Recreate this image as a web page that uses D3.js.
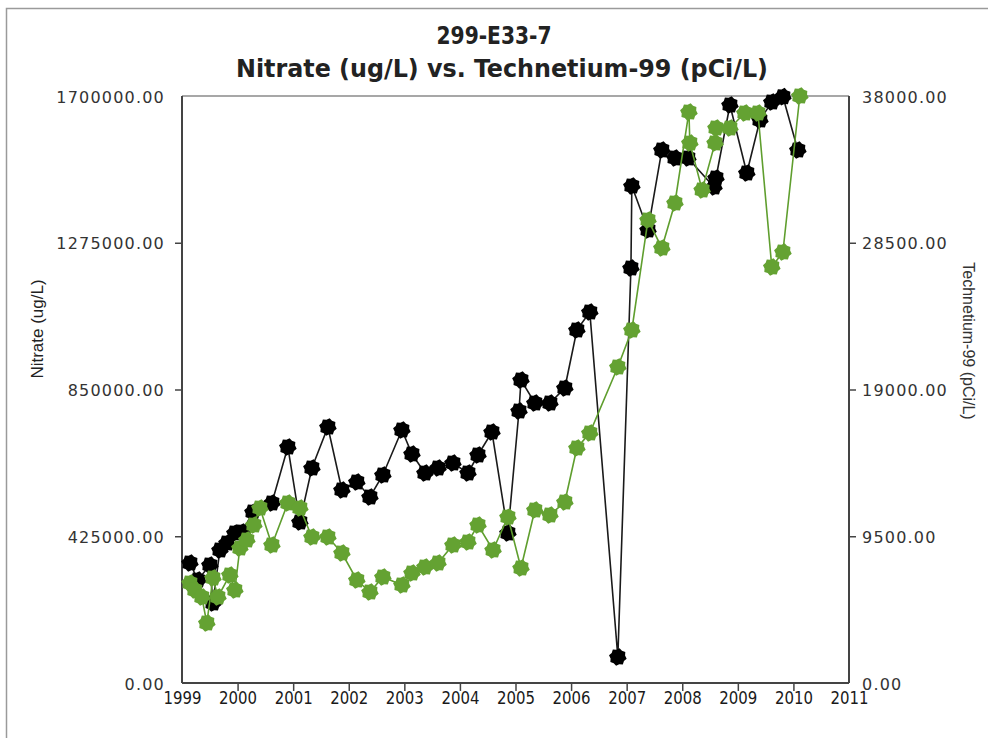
<!DOCTYPE html>
<html>
<head>
<meta charset="utf-8">
<script src="https://cdn.jsdelivr.net/npm/d3@7"></script>
<style>
  body { margin: 0; background: #fff; }
</style>
</head>
<body>
<div id="chart"></div>
<script>
// sample dates and values
var nitrateDates = ["1999-02-22","1999-04-15","1999-07-03","1999-07-23","1999-09-07","1999-10-23","1999-12-14",
  "2000-01-30","2000-04-11","2000-08-14","2000-11-27","2001-02-14","2001-05-04","2001-08-17","2001-11-17",
  "2002-02-23","2002-05-20","2002-08-13","2002-12-16","2003-02-20","2003-05-16","2003-08-10","2003-11-16",
  "2004-02-23","2004-04-29","2004-07-30","2004-11-12","2005-01-24","2005-02-06","2005-05-08","2005-08-15",
  "2005-11-21","2006-02-08","2006-05-04","2006-11-04","2007-01-29","2007-02-04","2007-05-21","2007-08-20",
  "2007-11-14","2008-02-07","2008-07-28","2008-08-10","2008-11-10","2009-03-01","2009-05-26","2009-08-12",
  "2009-10-24","2010-01-30"];
var nitrateValues = [347500,298300,341700,231700,385200,405500,434400,
  437300,495200,521300,683500,466300,622700,741400,559000,
  582100,538700,602400,732700,663200,608200,622700,637100,
  608200,660300,726900,434400,787700,877500,810900,810900,
  854300,1022300,1074400,75300,1201900,1439400,1311900,1543600,
  1520500,1520500,1436500,1462500,1674000,1477000,1630500,1682600,
  1698000,1543600];

var tcDates = ["1999-02-22","1999-03-26","1999-05-11","1999-06-13","1999-07-23","1999-08-25","1999-11-11","1999-12-14",
  "2000-01-16","2000-03-02","2000-04-17","2000-05-27","2000-08-14","2000-11-27","2001-02-14","2001-05-04",
  "2001-08-17","2001-11-17","2002-02-23","2002-05-20","2002-08-13","2002-12-16","2003-02-20","2003-05-16",
  "2003-08-10","2003-11-16","2004-02-23","2004-04-29","2004-08-06","2004-11-12","2005-02-06","2005-05-08",
  "2005-08-15","2005-11-21","2006-02-08","2006-05-04","2006-11-04","2007-02-04","2007-05-21","2007-08-20",
  "2007-11-14","2008-02-14","2008-02-20","2008-05-11","2008-08-04","2008-08-10","2008-11-10","2009-02-16",
  "2009-05-13","2009-08-12","2009-10-24","2010-02-12"];
var tcValues = [6474,6021,5568,3884,6798,5568,6992,6021,
  8740,9258,10229,11330,8934,11653,11330,9452,
  9452,8416,6668,5891,6862,6345,7121,7510,
  7769,8934,9128,10229,8610,10747,7445,11200,
  10876,11718,15214,16185,20458,22853,29975,28162,
  31075,36967,34960,31917,34960,35931,35931,36902,
  36902,26932,27903,38000];

var yearTicks = [1999,2000,2001,2002,2003,2004,2005,2006,2007,2008,2009,2010,2011];
var nitrateTicks = [0,425000,850000,1275000,1700000];
var tcTicks = [0,9500,19000,28500,38000];

var title1 = "299-E33-7";
var title2 = "Nitrate (ug/L) vs. Technetium-99 (pCi/L)";
var leftTitle = "Nitrate (ug/L)";
var rightTitle = "Technetium-99 (pCi/L)";

var W = 988, H = 738;
var margin = {top: 96, right: 139, bottom: 55, left: 182},
    width = W - margin.left - margin.right,
    height = H - margin.top - margin.bottom;

var parse = d3.timeParse("%Y-%m-%d");
var nitrate = nitrateDates.map(function(d, i) { return {date: parse(d), value: nitrateValues[i]}; });
var tc = tcDates.map(function(d, i) { return {date: parse(d), value: tcValues[i]}; });

var root = d3.select("#chart").append("svg")
  .attr("width", W).attr("height", H);

// outer frame
root.append("rect")
  .attr("x", 6.5).attr("y", 8.5)
  .attr("width", W + 20).attr("height", H + 20)
  .attr("fill", "none").attr("stroke", "#9a9a9a").attr("stroke-width", 1.5);

var titleFont = "Liberation Sans Narrow, DejaVu Sans Condensed";
root.append("text")
  .attr("x", 494).attr("y", 44)
  .attr("text-anchor", "middle")
  .attr("font-family", titleFont)
  .attr("font-weight", "bold").attr("font-size", 24)
  .attr("fill", "#222")
  .attr("textLength", 115).attr("lengthAdjust", "spacingAndGlyphs")
  .text(title1);
root.append("text")
  .attr("x", 502).attr("y", 77)
  .attr("text-anchor", "middle")
  .attr("font-family", titleFont)
  .attr("font-weight", "bold").attr("font-size", 24)
  .attr("fill", "#222")
  .attr("textLength", 532).attr("lengthAdjust", "spacingAndGlyphs")
  .text(title2);

var svg = root.append("g")
  .attr("transform", "translate(" + margin.left + "," + margin.top + ")");

var x = d3.scaleLinear().domain([1999, 2011]).range([0, width]);
var yL = d3.scaleLinear().domain([0, 1700000]).range([height, 0]);
var yR = d3.scaleLinear().domain([0, 38000]).range([height, 0]);

function decYear(d) {
  var y = d.getFullYear();
  var start = new Date(y, 0, 1), end = new Date(y + 1, 0, 1);
  return y + (d - start) / (end - start);
}

// axes
var fmt = d3.format(".2f");
function styleAxis(g, interior) {
  g.select(".domain").remove();
  g.selectAll(".tick line")
    .attr("stroke", "#444").attr("stroke-width", 1.5)
    .style("display", function(d) { return interior.indexOf(d) < 0 ? "none" : null; });
}

var gx = svg.append("g")
  .attr("transform", "translate(0," + height + ")")
  .call(d3.axisBottom(x).tickValues(yearTicks).tickFormat(d3.format("d")).tickSize(8).tickPadding(1));
styleAxis(gx, yearTicks.slice(1, -1));
gx.selectAll("text")
  .attr("font-family", "DejaVu Sans Condensed, DejaVu Sans")
  .attr("font-size", 17).attr("fill", "#1a1a1a")
  .attr("textLength", 38).attr("lengthAdjust", "spacingAndGlyphs");

var gl = svg.append("g")
  .call(d3.axisLeft(yL).tickValues(nitrateTicks).tickFormat(fmt).tickSize(7).tickPadding(10));
styleAxis(gl, nitrateTicks.slice(1, -1));
gl.selectAll("text")
  .attr("font-family", "DejaVu Sans")
  .attr("font-size", 16).attr("fill", "#333")
  .attr("letter-spacing", 1.2)
  .attr("dy", "0.38em");

var gr = svg.append("g")
  .attr("transform", "translate(" + width + ",0)")
  .call(d3.axisRight(yR).tickValues(tcTicks).tickFormat(fmt).tickSize(7).tickPadding(6));
styleAxis(gr, tcTicks.slice(1, -1));
gr.selectAll("text")
  .attr("font-family", "DejaVu Sans")
  .attr("font-size", 16).attr("fill", "#333")
  .attr("letter-spacing", 1.2)
  .attr("dy", "0.38em");

// plot frame
svg.append("line").attr("x1", 0).attr("x2", width).attr("y1", 0).attr("y2", 0)
  .attr("stroke", "#8a8a8a").attr("stroke-width", 1.5);
svg.append("line").attr("x1", 0).attr("x2", 0).attr("y1", 0).attr("y2", height)
  .attr("stroke", "#444").attr("stroke-width", 2);
svg.append("line").attr("x1", width).attr("x2", width).attr("y1", 0).attr("y2", height)
  .attr("stroke", "#444").attr("stroke-width", 2);
svg.append("line").attr("x1", 0).attr("x2", width).attr("y1", height).attr("y2", height)
  .attr("stroke", "#444").attr("stroke-width", 2);

// axis titles
root.append("text")
  .attr("transform", "translate(43,329) rotate(-90)")
  .attr("text-anchor", "middle")
  .attr("font-family", "Liberation Sans, Arial")
  .attr("font-size", 17).attr("fill", "#222")
  .text(leftTitle);
root.append("text")
  .attr("transform", "translate(963,341) rotate(90)")
  .attr("text-anchor", "middle")
  .attr("font-family", "Liberation Sans, Arial")
  .attr("font-size", 16).attr("fill", "#333")
  .text(rightTitle);

// gear-like marker used by the original chart
var gear = {
  draw: function(ctx, size) {
    var R = Math.sqrt(size / Math.PI), r = R * 0.82, n = 16;
    for (var i = 0; i < n; i++) {
      var a = i * Math.PI * 2 / n + Math.PI / 16;
      var rr = (i % 2 === 0) ? R : r;
      var px = rr * Math.cos(a), py = rr * Math.sin(a);
      if (i === 0) ctx.moveTo(px, py); else ctx.lineTo(px, py);
    }
    ctx.closePath();
  }
};
var marker = d3.symbol().type(gear).size(Math.PI * 9 * 9);

function drawSeries(data, yScale, lineColor, dotColor) {
  svg.append("path")
    .datum(data)
    .attr("fill", "none")
    .attr("stroke", lineColor)
    .attr("stroke-width", 1.6)
    .attr("d", d3.line()
      .x(function(d) { return x(decYear(d.date)); })
      .y(function(d) { return yScale(d.value); }));
  svg.append("g").selectAll("path")
    .data(data)
    .enter().append("path")
      .attr("d", marker)
      .attr("fill", dotColor)
      .attr("transform", function(d) {
        return "translate(" + x(decYear(d.date)) + "," + yScale(d.value) + ")";
      });
}

drawSeries(nitrate, yL, "#1a1a1a", "#000");
drawSeries(tc, yR, "#5f9e2e", "#64a232");
</script>
</body>
</html>
